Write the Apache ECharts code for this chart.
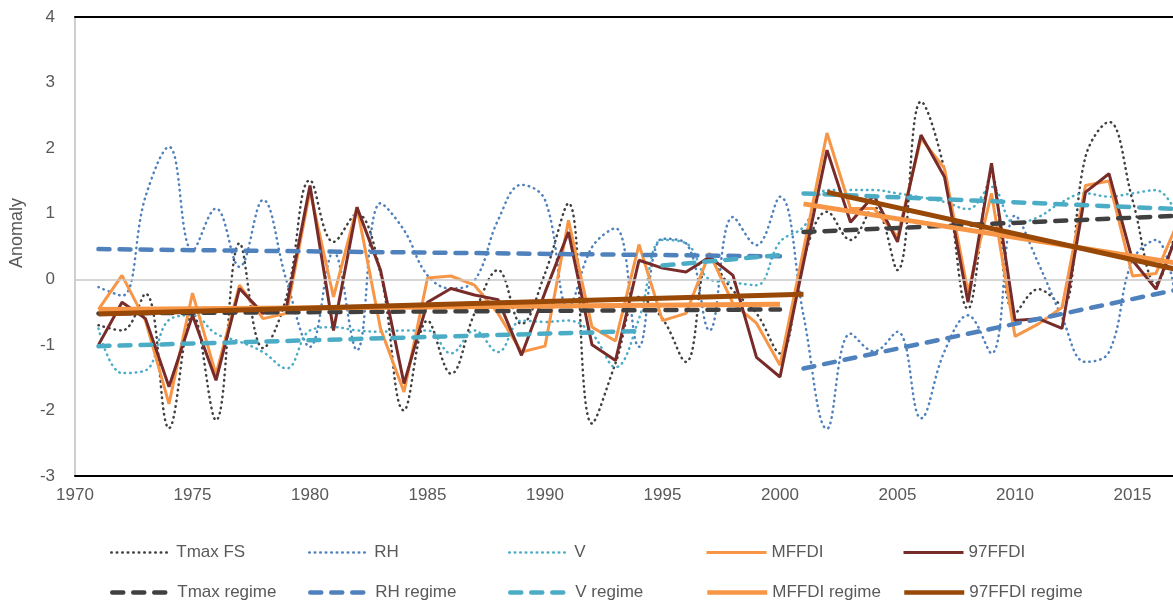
<!DOCTYPE html>
<html>
<head>
<meta charset="utf-8">
<script src="https://cdn.jsdelivr.net/npm/echarts@6/dist/echarts.min.js"></script>
<style>
html,body{margin:0;padding:0;background:#fff;}
#chart{width:1173px;height:606px;}
</style>
</head>
<body>
<div id="chart"></div>
<script>
// ---------- data ----------
const years = [1971,1972,1973,1974,1975,1976,1977,1978,1979,1980,1981,1982,1983,1984,1985,1986,1987,1988,1989,1990,
  1991,1992,1993,1994,1995,1996,1997,1998,1999,2000,2001,2002,2003,2004,2005,2006,2007,2008,2009,2010,
  2011,2012,2013,2014,2015,2016,2017];

const tmaxFS = [-0.70,-0.78,-0.22,-2.27,-0.52,-2.15,0.55,-1.05,-0.27,1.51,0.57,1.00,0.09,-2.00,-0.63,-1.44,-0.52,0.14,-0.68,0.09,
  1.16,-2.20,-1.28,-0.27,-0.60,-1.26,0.29,-0.17,-0.52,-1.13,0.30,1.03,0.60,1.10,0.14,2.71,1.66,-0.45,1.59,-0.52,
  -0.15,-0.40,1.87,2.40,1.21,-0.06,1.00];

const rh = [-0.12,-0.25,1.26,2.02,0.44,1.08,0.19,1.21,-0.02,-1.03,0.42,-1.08,1.16,0.75,0.06,-0.14,-0.02,0.90,1.44,1.21,
  -0.42,0.49,0.78,-1.03,0.62,0.55,-0.78,0.95,0.52,1.26,-0.55,-2.28,-0.83,-1.10,-0.80,-2.12,-1.10,-0.55,-1.13,0.97,
  0.24,-0.58,-1.26,-1.11,0.29,0.60,-0.70];

const v = [-0.75,-1.43,-1.39,-0.62,-0.55,-0.83,-0.95,-1.11,-1.36,-0.78,-0.73,-0.78,-0.80,-0.78,-0.78,-1.13,-0.78,-1.11,-0.63,-0.65,
  -0.63,-0.83,-1.34,-0.60,0.60,0.55,0.00,-0.05,-0.09,0.57,0.80,1.36,1.36,1.36,1.31,1.25,1.18,1.07,1.41,0.85,
  0.95,1.18,1.31,1.26,1.31,1.36,0.90];

const mffdi = [-0.46,0.06,-0.63,-1.90,-0.21,-1.45,-0.09,-0.60,-0.52,1.35,-0.27,1.10,-0.75,-1.72,0.02,0.05,-0.09,-0.52,-1.11,-1.02,
  0.90,-0.73,-0.94,0.53,-0.63,-0.52,0.40,-0.37,-0.67,-1.31,0.45,2.23,1.08,1.08,0.65,2.15,1.69,-0.20,1.31,-0.87,
  -0.68,-0.43,1.43,1.50,0.05,0.09,0.93];

const ffdi97 = [-1.00,-0.35,-0.60,-1.64,-0.55,-1.54,-0.14,-0.52,-0.42,1.43,-0.78,1.10,0.14,-1.59,-0.35,-0.14,-0.24,-0.31,-1.16,-0.20,
  0.72,-1.00,-1.24,0.29,0.17,0.11,0.34,0.06,-1.19,-1.49,0.25,1.97,0.87,1.28,0.57,2.20,1.56,-0.35,1.77,-0.63,
  -0.60,-0.75,1.33,1.61,0.29,-0.15,0.78];

// regime segments: [year, value]; null value breaks the line
const tmaxRegime  = [[1971,-0.52],[2000,-0.46],[2000.5,null],[2001,0.72],[2017,0.97]];
const rhRegime    = [[1971,0.46],[2000,0.35],[2000.5,null],[2001,-1.36],[2017,-0.15]];
const vRegime     = [[1971,-1.02],[1994,-0.79],[1994.5,null],[1995,0.21],[2000,0.37],[2000.5,null],[2001,1.31],[2017,1.07]];
const mffdiRegime = [[1971,-0.46],[2000,-0.38],[2000.5,null],[2001,1.15],[2017,0.24]];
const ffdi97Regime= [[1971,-0.53],[2001,-0.23],[2001.5,null],[2002,1.33],[2017,0.14]];

const seriesNames = ['Tmax FS','RH','V','MFFDI','97FFDI','Tmax regime','RH regime','V regime','MFFDI regime','97FFDI regime'];
const yTicks = {min:-3, max:4, interval:1};
const xTicks = {min:1970, interval:5};

// ---------- build ----------
const pair = arr => years.map((y,i)=>[y,arr[i]]);
const FONT = "'Liberation Sans', Arial, sans-serif";
const TXT = '#595959';
const dotted = c => ({color:c, width:2.5, type:[0.5,5], cap:'round'});
const dashed = c => ({color:c, width:4.5, type:[11,10], cap:'round'});
const solid = (c,w) => ({color:c, width:w, type:'solid'});

function line(name, data, color, ls, smooth){
  return {name, type:'line', data, symbol:'none', showSymbol:false, smooth: smooth||false,
    itemStyle:{color}, lineStyle:ls, clip:true, animation:false, connectNulls:false};
}

const styles = [
  dotted('#404040'), dotted('#4f81bd'), dotted('#4bacc6'),
  solid('#f79646',3), solid('#772c2a',3),
  dashed('#404040'), dashed('#4f81bd'), dashed('#4bacc6'),
  solid('#f79646',5), solid('#984807',5)
];
const colors = ['#404040','#4f81bd','#4bacc6','#f79646','#772c2a','#404040','#4f81bd','#4bacc6','#f79646','#984807'];
const dataSets = [pair(tmaxFS), pair(rh), pair(v), pair(mffdi), pair(ffdi97),
  tmaxRegime, rhRegime, vRegime, mffdiRegime, ffdi97Regime];

const series = seriesNames.map((n,i)=>line(n, dataSets[i], colors[i], styles[i], i<3 ? 0.4 : false));
series[0].markLine = {silent:true, symbol:'none', animation:false, label:{show:false},
  lineStyle:{color:'#c8c8c8', type:'solid', width:1.5}, data:[{yAxis:0}]};

const colX = [110, 308, 508, 705, 902];
const rowY = [544, 584];
const legends = seriesNames.map((n,i)=>({
  data:[n], left: colX[i%5], top: rowY[Math.floor(i/5)], padding:0, itemGap:0,
  itemWidth:60, itemHeight:14, selectedMode:false,
  itemStyle:{opacity:0, borderWidth:0},
  lineStyle:Object.assign({}, styles[i], {width: Math.min(styles[i].width, 4.5)}),
  textStyle:{color:TXT, fontSize:17, fontFamily:FONT}
}));

const chart = echarts.init(document.getElementById('chart'), null, {renderer:'canvas'});
chart.setOption({
  animation:false,
  backgroundColor:'#fff',
  grid:{left:75, right:0, top:17, bottom:130, containLabel:false},
  legend: legends,
  xAxis:[
    {type:'value', position:'bottom', min:xTicks.min, max:1970+1098/23.5, interval:xTicks.interval,
     axisLine:{show:true, onZero:false, lineStyle:{color:'#000', width:2}},
     axisTick:{show:false}, splitLine:{show:false},
     axisLabel:{color:TXT, fontSize:17, fontFamily:FONT, margin:11, showMaxLabel:false,
       formatter: val => String(Math.round(val))}},
    {type:'value', position:'top', min:xTicks.min, max:1970+1098/23.5, interval:xTicks.interval,
     axisLine:{show:true, onZero:false, lineStyle:{color:'#000', width:2}},
     axisTick:{show:false}, splitLine:{show:false}, axisLabel:{show:false}}
  ],
  yAxis:{type:'value', min:yTicks.min, max:yTicks.max, interval:yTicks.interval,
    axisLine:{show:true, onZero:false, lineStyle:{color:'#bfbfbf', width:1.5}},
    axisTick:{show:false}, splitLine:{show:false},
    axisLabel:{color:TXT, fontSize:17, fontFamily:FONT, margin:20}},
  graphic:[{type:'text', x:17, y:233, rotation:Math.PI/2,
    style:{text:'Anomaly', fill:TXT, fontSize:18, fontFamily:FONT, align:'center', verticalAlign:'middle'}}],
  series
});
</script>
</body>
</html>
